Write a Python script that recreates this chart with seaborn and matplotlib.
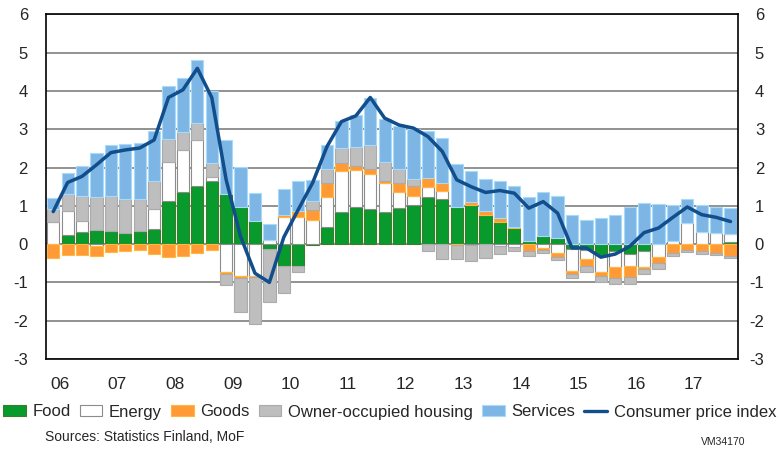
import matplotlib
matplotlib.use("Agg")
import matplotlib.pyplot as plt
import numpy as np
import pandas as pd
import seaborn as sns
from matplotlib.patches import Patch
from matplotlib.lines import Line2D

# Quarterly contributions to consumer price inflation, 2006Q1-2017Q4 (%-points)
years = ["06", "07", "08", "09", "10", "11", "12", "13", "14", "15", "16", "17"]

food = [0.00, 0.23, 0.31, 0.38, 0.35, 0.28, 0.33, 0.39,
        1.12, 1.37, 1.51, 1.65, 1.31, 0.98, 0.61, -0.13,
        -0.57, -0.58, -0.02, 0.46, 0.85, 0.97, 0.91, 0.83,
        0.94, 1.03, 1.22, 1.17, 0.98, 1.03, 0.77, 0.57,
        0.42, 0.07, 0.22, 0.15, -0.13, -0.15, -0.28, -0.17,
        -0.25, -0.17, 0.00, 0.00, 0.00, 0.00, 0.00, 0.06]
energy = [0.59, 0.63, 0.30, -0.04, 0.00, 0.00, 0.00, 0.53,
          1.03, 1.10, 1.22, 0.11, -0.74, -0.83, -0.83, 0.10,
          0.70, 0.72, 0.62, 0.76, 1.07, 0.97, 0.92, 0.77,
          0.43, 0.23, 0.27, 0.22, 0.00, -0.03, 0.00, -0.04,
          -0.08, 0.00, -0.10, -0.23, -0.58, -0.24, -0.45, -0.42,
          -0.31, -0.43, -0.34, 0.07, 0.55, 0.31, 0.30, 0.20]
goods = [-0.35, -0.28, -0.28, -0.26, -0.21, -0.17, -0.15, -0.25,
         -0.34, -0.31, -0.24, -0.16, -0.03, -0.05, -0.03, 0.02,
         0.06, 0.15, 0.28, 0.37, 0.19, 0.09, 0.12, 0.04,
         0.23, 0.27, 0.23, 0.20, -0.03, 0.08, 0.09, 0.12,
         0.03, -0.17, -0.06, -0.11, -0.06, -0.17, -0.11, -0.29,
         -0.30, -0.05, -0.16, -0.23, -0.15, -0.17, -0.23, -0.32]
housing = [0.32, 0.44, 0.64, 0.86, 0.90, 0.91, 0.86, 0.73,
           0.60, 0.47, 0.43, 0.37, -0.31, -0.90, -1.22, -1.39,
           -0.71, -0.15, 0.23, 0.37, 0.41, 0.50, 0.63, 0.50,
           0.35, 0.17, -0.17, -0.38, -0.37, -0.40, -0.35, -0.22,
           -0.11, -0.14, -0.07, -0.08, -0.12, -0.18, -0.16, -0.15,
           -0.17, -0.12, -0.14, -0.07, -0.06, -0.09, -0.05, -0.04]
services = [0.30, 0.57, 0.78, 1.13, 1.35, 1.43, 1.46, 1.30,
            1.39, 1.40, 1.65, 1.87, 1.40, 1.04, 0.72, 0.41,
            0.68, 0.77, 0.55, 0.63, 0.70, 0.83, 1.24, 1.14,
            1.14, 1.30, 1.23, 1.19, 1.11, 0.81, 0.84, 0.96,
            1.08, 1.16, 1.13, 1.10, 0.77, 0.63, 0.67, 0.77,
            0.98, 1.07, 1.05, 0.94, 0.63, 0.70, 0.67, 0.68]
cpi = [0.85, 1.61, 1.77, 2.07, 2.39, 2.46, 2.51, 2.72,
       3.83, 4.03, 4.59, 3.83, 1.68, 0.20, -0.76, -1.00,
       0.18, 0.90, 1.60, 2.55, 3.20, 3.35, 3.83, 3.29,
       3.11, 3.03, 2.81, 2.42, 1.68, 1.50, 1.35, 1.40,
       1.33, 0.94, 1.11, 0.81, -0.10, -0.10, -0.34, -0.26,
       -0.06, 0.30, 0.42, 0.70, 0.97, 0.77, 0.70, 0.59]

series = [
    ("Food", food, "#089A2C", "#3E7B2A"),
    ("Energy", energy, "#FFFFFF", "#8C8C8C"),
    ("Goods", goods, "#FF9A36", "#FFB83D"),
    ("Owner-occupied housing", housing, "#BEBEBE", "#ABABAB"),
    ("Services", services, "#7DB5E5", "#A8DBFA"),
]

sns.set_style("white")
plt.rcParams["font.family"] = ["Liberation Sans", "DejaVu Sans"]
plt.rcParams["axes.unicode_minus"] = False

fig = plt.figure(figsize=(7.8, 4.49), dpi=100)
ax = fig.add_axes([0.059, 0.2004, 0.8868, 0.7676])

x = np.arange(len(cpi))
pos_bottom = np.zeros(len(x))
neg_bottom = np.zeros(len(x))
for name, vals, face, edge in series:
    v = np.array(vals)
    bottom = np.where(v >= 0, pos_bottom, neg_bottom)
    ax.bar(x, v, bottom=bottom, width=0.85, color=face, edgecolor=edge,
           linewidth=0.8, zorder=2)
    pos_bottom = pos_bottom + np.where(v >= 0, v, 0)
    neg_bottom = neg_bottom + np.where(v < 0, v, 0)

df = pd.DataFrame({"q": x, "cpi": cpi})
sns.lineplot(data=df, x="q", y="cpi", ax=ax, color="#114E8B", linewidth=2.5,
             zorder=4)

ax.set_xlim(-0.5, len(x) - 0.5)
ax.set_ylim(-3, 6)
ax.set_yticks(range(-3, 7))
ax.yaxis.grid(True, color="#7F7F7F", linewidth=1.2)
ax.set_axisbelow(True)
ax.set_xlabel("")
ax.set_ylabel("")

# year boundaries get tick marks, labels sit a bit left of the year centre
ax.set_xticks(np.arange(3.5, len(x) - 1, 4))
ax.set_xticklabels([])
ax.set_xticks(np.arange(0.45, len(x), 4), minor=True)
ax.set_xticklabels(years, minor=True)
ax.tick_params(axis="x", which="major", direction="in", length=7,
               width=1, color="black")
ax.tick_params(axis="x", which="minor", length=0, pad=13, labelsize=12.5)
ax.tick_params(axis="y", length=0, pad=13, labelsize=12)

for s in ax.spines.values():
    s.set_color("black")
    s.set_linewidth(1.2)

ax2 = ax.twinx()
ax2.set_ylim(-3, 6)
ax2.set_yticks(range(-3, 7))
ax2.tick_params(axis="y", length=0, pad=19, labelsize=12)
for lbl in ax2.get_yticklabels():
    lbl.set_horizontalalignment("right")
for s in ax2.spines.values():
    s.set_visible(False)

handles = [Patch(facecolor=face, edgecolor=edge, linewidth=0.8, label=name)
           for name, _, face, edge in series]
handles.append(Line2D([0], [0], color="#114E8B", linewidth=2.4,
                      label="Consumer price index"))
fig.legend(handles=handles, loc="center left", bbox_to_anchor=(0.0, 1 - 412 / 449),
           ncol=6, frameon=False, fontsize=12, handlelength=1.35,
           handleheight=0.6, handletextpad=0.4, columnspacing=0.55,
           borderaxespad=0, borderpad=0.2)

fig.text(45 / 780, 1 - 437 / 449, "Sources: Statistics Finland, MoF",
         fontsize=10, va="center", ha="left")
fig.text(745 / 780, 1 - 442 / 449, "VM34170", fontsize=7.5,
         va="center", ha="right")

fig.savefig("out.png", dpi=100)
